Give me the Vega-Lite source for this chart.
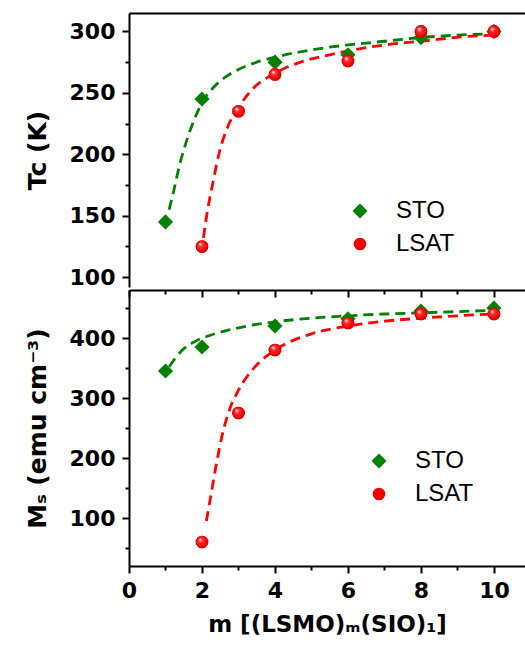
{
  "$schema": "https://vega.github.io/schema/vega-lite/v6.json",
  "padding": {"left": 25, "top": 13, "right": 0, "bottom": 0},
  "background": "white",
  "spacing": 0,
  "datasets": {
    "pts": [
      {"panel": "Tc", "series": "STO", "m": 1, "v": 145},
      {"panel": "Tc", "series": "STO", "m": 2, "v": 245},
      {"panel": "Tc", "series": "STO", "m": 4, "v": 275},
      {"panel": "Tc", "series": "STO", "m": 6, "v": 281},
      {"panel": "Tc", "series": "STO", "m": 8, "v": 295},
      {"panel": "Tc", "series": "STO", "m": 10, "v": 300},
      {"panel": "Tc", "series": "LSAT", "m": 2, "v": 125},
      {"panel": "Tc", "series": "LSAT", "m": 3, "v": 235},
      {"panel": "Tc", "series": "LSAT", "m": 4, "v": 265},
      {"panel": "Tc", "series": "LSAT", "m": 6, "v": 276},
      {"panel": "Tc", "series": "LSAT", "m": 8, "v": 300},
      {"panel": "Tc", "series": "LSAT", "m": 10, "v": 300},
      {"panel": "Ms", "series": "STO", "m": 1, "v": 345},
      {"panel": "Ms", "series": "STO", "m": 2, "v": 385},
      {"panel": "Ms", "series": "STO", "m": 4, "v": 420},
      {"panel": "Ms", "series": "STO", "m": 6, "v": 432},
      {"panel": "Ms", "series": "STO", "m": 8, "v": 445},
      {"panel": "Ms", "series": "STO", "m": 10, "v": 450},
      {"panel": "Ms", "series": "LSAT", "m": 2, "v": 60},
      {"panel": "Ms", "series": "LSAT", "m": 3, "v": 275},
      {"panel": "Ms", "series": "LSAT", "m": 4, "v": 380},
      {"panel": "Ms", "series": "LSAT", "m": 6, "v": 425},
      {"panel": "Ms", "series": "LSAT", "m": 8, "v": 440},
      {"panel": "Ms", "series": "LSAT", "m": 10, "v": 440}
    ],
    "fit": [
      {"panel": "Tc", "series": "STO", "m": 1.1, "v": 155},
      {"panel": "Tc", "series": "STO", "m": 1.2, "v": 167},
      {"panel": "Tc", "series": "STO", "m": 1.4, "v": 193},
      {"panel": "Tc", "series": "STO", "m": 1.6, "v": 213},
      {"panel": "Tc", "series": "STO", "m": 1.8, "v": 229},
      {"panel": "Tc", "series": "STO", "m": 2, "v": 242},
      {"panel": "Tc", "series": "STO", "m": 2.3, "v": 254},
      {"panel": "Tc", "series": "STO", "m": 2.7, "v": 264},
      {"panel": "Tc", "series": "STO", "m": 3, "v": 269},
      {"panel": "Tc", "series": "STO", "m": 3.5, "v": 275},
      {"panel": "Tc", "series": "STO", "m": 4, "v": 279},
      {"panel": "Tc", "series": "STO", "m": 5, "v": 285},
      {"panel": "Tc", "series": "STO", "m": 6, "v": 289},
      {"panel": "Tc", "series": "STO", "m": 7, "v": 292},
      {"panel": "Tc", "series": "STO", "m": 8, "v": 295},
      {"panel": "Tc", "series": "STO", "m": 9, "v": 297},
      {"panel": "Tc", "series": "STO", "m": 10, "v": 298},
      {"panel": "Tc", "series": "LSAT", "m": 2.04, "v": 132},
      {"panel": "Tc", "series": "LSAT", "m": 2.15, "v": 154},
      {"panel": "Tc", "series": "LSAT", "m": 2.3, "v": 177},
      {"panel": "Tc", "series": "LSAT", "m": 2.47, "v": 201},
      {"panel": "Tc", "series": "LSAT", "m": 2.7, "v": 222},
      {"panel": "Tc", "series": "LSAT", "m": 3, "v": 238},
      {"panel": "Tc", "series": "LSAT", "m": 3.35, "v": 252},
      {"panel": "Tc", "series": "LSAT", "m": 4, "v": 266},
      {"panel": "Tc", "series": "LSAT", "m": 4.7, "v": 275},
      {"panel": "Tc", "series": "LSAT", "m": 5.5, "v": 281},
      {"panel": "Tc", "series": "LSAT", "m": 7, "v": 289},
      {"panel": "Tc", "series": "LSAT", "m": 8, "v": 292},
      {"panel": "Tc", "series": "LSAT", "m": 9.3, "v": 296},
      {"panel": "Tc", "series": "LSAT", "m": 10, "v": 297},
      {"panel": "Ms", "series": "STO", "m": 1.1, "v": 352},
      {"panel": "Ms", "series": "STO", "m": 1.43, "v": 378},
      {"panel": "Ms", "series": "STO", "m": 1.8, "v": 394},
      {"panel": "Ms", "series": "STO", "m": 2.25, "v": 405},
      {"panel": "Ms", "series": "STO", "m": 3, "v": 417},
      {"panel": "Ms", "series": "STO", "m": 4, "v": 427},
      {"panel": "Ms", "series": "STO", "m": 5, "v": 433},
      {"panel": "Ms", "series": "STO", "m": 6, "v": 437},
      {"panel": "Ms", "series": "STO", "m": 7, "v": 440},
      {"panel": "Ms", "series": "STO", "m": 8, "v": 442},
      {"panel": "Ms", "series": "STO", "m": 9, "v": 444},
      {"panel": "Ms", "series": "STO", "m": 10, "v": 446},
      {"panel": "Ms", "series": "LSAT", "m": 2.12, "v": 95},
      {"panel": "Ms", "series": "LSAT", "m": 2.25, "v": 140},
      {"panel": "Ms", "series": "LSAT", "m": 2.4, "v": 192},
      {"panel": "Ms", "series": "LSAT", "m": 2.55, "v": 237},
      {"panel": "Ms", "series": "LSAT", "m": 2.75, "v": 280},
      {"panel": "Ms", "series": "LSAT", "m": 3, "v": 313},
      {"panel": "Ms", "series": "LSAT", "m": 3.25, "v": 337},
      {"panel": "Ms", "series": "LSAT", "m": 3.5, "v": 355},
      {"panel": "Ms", "series": "LSAT", "m": 4, "v": 380},
      {"panel": "Ms", "series": "LSAT", "m": 4.5, "v": 396},
      {"panel": "Ms", "series": "LSAT", "m": 5, "v": 407},
      {"panel": "Ms", "series": "LSAT", "m": 6, "v": 420},
      {"panel": "Ms", "series": "LSAT", "m": 7, "v": 428},
      {"panel": "Ms", "series": "LSAT", "m": 8, "v": 433},
      {"panel": "Ms", "series": "LSAT", "m": 9, "v": 437},
      {"panel": "Ms", "series": "LSAT", "m": 10, "v": 440}
    ]
  },
  "resolve": {
    "scale": {"fill": "independent", "shape": "independent", "stroke": "independent", "size": "independent"},
    "legend": {"fill": "independent", "shape": "independent", "size": "independent"}
  },
  "vconcat": [
    {
      "width": 396,
      "height": 274,
      "encoding": {
        "x": {"field": "m", "type": "quantitative", "scale": {"domain": [0, 10.85], "nice": false, "zero": false},
          "axis": {"orient": "top", "ticks": false, "labels": false, "title": null, "domain": true}},
        "y": {"field": "v", "type": "quantitative", "scale": {"domain": [92, 315], "nice": false, "zero": false},
          "axis": {"values": [100, 125, 150, 175, 200, 225, 250, 275, 300],
            "labelExpr": "datum.value % 50 === 0 ? datum.label : ''",
            "tickSize": {"condition": {"test": "datum.value % 50 === 0", "value": 7}, "value": 4},
            "title": "Tc (K)", "titlePadding": 19}}
      },
      "layer": [
        {
          "data": {"name": "fit"},
          "transform": [{"filter": "datum.panel === 'Tc'"}],
          "mark": {"type": "line", "strokeDash": [10, 6], "strokeWidth": 2.8, "interpolate": "monotone"},
          "encoding": {
            "stroke": {"field": "series", "type": "nominal", "scale": {"domain": ["LSAT", "STO"], "range": ["#ff0000", "#008000"]}, "legend": null}
          }
        },
        {
          "data": {"name": "pts"},
          "transform": [{"filter": "datum.panel === 'Tc'"}],
          "mark": {"type": "point", "filled": true, "opacity": 1, "strokeWidth": 0},
          "encoding": {
            "fill": {"field": "series", "type": "nominal", "scale": {"domain": ["STO", "LSAT"], "range": ["#008000", "#f00000"]},
              "legend": {"orient": "none", "legendX": 219, "legendY": 186, "title": null}},
            "shape": {"field": "series", "type": "nominal", "scale": {"domain": ["STO", "LSAT"], "range": ["diamond", "circle"]},
              "legend": {"orient": "none", "legendX": 219, "legendY": 186, "title": null}},
            "size": {"field": "series", "type": "nominal", "scale": {"domain": ["STO", "LSAT"], "range": [230, 160]},
              "legend": {"orient": "none", "legendX": 219, "legendY": 186, "title": null}}
          }
        },
        {
          "data": {"name": "pts"},
          "transform": [{"filter": "datum.panel === 'Tc' && datum.series === 'LSAT'"}],
          "mark": {"type": "point", "shape": "circle", "filled": true, "opacity": 1, "strokeWidth": 0, "size": 160,
            "color": {"gradient": "radial", "x1": 0.35, "y1": 0.3, "r1": 0.02, "x2": 0.5, "y2": 0.5, "r2": 0.55,
              "stops": [{"offset": 0, "color": "#ffe6e6"}, {"offset": 0.3, "color": "#ff3030"}, {"offset": 0.8, "color": "#e80000"}, {"offset": 1, "color": "#b00000"}]}},
          "encoding": {}
        }
      ]
    },
    {
      "width": 396,
      "height": 276,
      "encoding": {
        "x": {"field": "m", "type": "quantitative", "scale": {"domain": [0, 10.85], "nice": false, "zero": false},
          "axis": {"orient": "bottom", "values": [0, 1, 2, 3, 4, 5, 6, 7, 8, 9, 10],
            "labelExpr": "datum.value % 2 === 0 ? datum.label : ''",
            "tickSize": {"condition": {"test": "datum.value % 2 === 0", "value": 7}, "value": 4},
            "title": "m [(LSMO)ₘ(SIO)₁]", "titlePadding": 12, "titleFontSize": 23}},
        "y": {"field": "v", "type": "quantitative", "scale": {"domain": [20, 480], "nice": false, "zero": false},
          "axis": {"values": [50, 100, 150, 200, 250, 300, 350, 400, 450],
            "labelExpr": "datum.value % 100 === 0 ? datum.label : ''",
            "tickSize": {"condition": {"test": "datum.value % 100 === 0", "value": 7}, "value": 4},
            "title": "Mₛ (emu cm⁻³)", "titlePadding": 19}}
      },
      "resolve": {"axis": {"x": "independent"}},
      "layer": [
        {
          "data": {"name": "fit"},
          "transform": [{"filter": "datum.panel === 'Ms'"}],
          "mark": {"type": "line", "strokeDash": [10, 6], "strokeWidth": 2.8, "interpolate": "monotone"},
          "encoding": {
            "stroke": {"field": "series", "type": "nominal", "scale": {"domain": ["LSAT", "STO"], "range": ["#ff0000", "#008000"]}, "legend": null}
          }
        },
        {
          "data": {"name": "pts"},
          "transform": [{"filter": "datum.panel === 'Ms'"}],
          "mark": {"type": "point", "filled": true, "opacity": 1, "strokeWidth": 0},
          "encoding": {
            "x": {"field": "m", "type": "quantitative", "scale": {"domain": [0, 10.85], "nice": false, "zero": false},
              "axis": {"orient": "top", "values": [0, 1, 2, 3, 4, 5, 6, 7, 8, 9, 10], "labels": false, "title": null,
                "tickSize": {"condition": {"test": "datum.value % 2 === 0", "value": -7}, "value": -4}}},
            "fill": {"field": "series", "type": "nominal", "scale": {"domain": ["STO", "LSAT"], "range": ["#008000", "#f00000"]},
              "legend": {"orient": "none", "legendX": 238, "legendY": 159, "title": null}},
            "shape": {"field": "series", "type": "nominal", "scale": {"domain": ["STO", "LSAT"], "range": ["diamond", "circle"]},
              "legend": {"orient": "none", "legendX": 238, "legendY": 159, "title": null}},
            "size": {"field": "series", "type": "nominal", "scale": {"domain": ["STO", "LSAT"], "range": [230, 160]},
              "legend": {"orient": "none", "legendX": 238, "legendY": 159, "title": null}}
          }
        },
        {
          "data": {"name": "pts"},
          "transform": [{"filter": "datum.panel === 'Ms' && datum.series === 'LSAT'"}],
          "mark": {"type": "point", "shape": "circle", "filled": true, "opacity": 1, "strokeWidth": 0, "size": 160,
            "color": {"gradient": "radial", "x1": 0.35, "y1": 0.3, "r1": 0.02, "x2": 0.5, "y2": 0.5, "r2": 0.55,
              "stops": [{"offset": 0, "color": "#ffe6e6"}, {"offset": 0.3, "color": "#ff3030"}, {"offset": 0.8, "color": "#e80000"}, {"offset": 1, "color": "#b00000"}]}},
          "encoding": {
            "x": {"field": "m", "type": "quantitative", "axis": null}
          }
        }
      ]
    }
  ],
  "config": {
    "view": {"stroke": null},
    "axis": {
      "domainColor": "black", "domainWidth": 2, "tickColor": "black", "tickWidth": 2,
      "labelColor": "black", "titleColor": "black", "grid": false,
      "labelFont": "DejaVu Sans", "labelFontWeight": "bold", "labelFontSize": 22,
      "titleFont": "DejaVu Sans", "titleFontWeight": "bold", "titleFontSize": 25,
      "labelFlush": false, "labelPadding": 7, "labelOverlap": false
    },
    "legend": {
      "labelFont": "Liberation Sans", "labelFontSize": 24, "labelColor": "black",
      "symbolStrokeWidth": 0, "labelOffset": 24, "rowPadding": 9
    }
  }
}
